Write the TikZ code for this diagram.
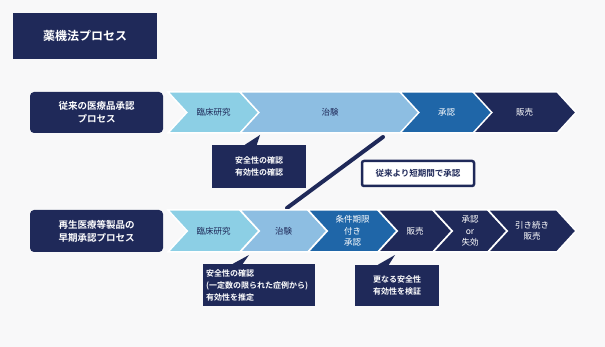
\documentclass[tikz,border=0pt]{standalone}
\usepackage{fontspec}
\setmainfont{Noto Sans CJK JP}[BoldFont={Noto Sans CJK JP Bold}]
\usepackage{tikz}
\usetikzlibrary{shapes.symbols, positioning, calc}
\definecolor{cNavy}{RGB}{31,41,89}
\definecolor{cCyan}{RGB}{140,207,229}
\definecolor{cSky}{RGB}{141,190,226}
\definecolor{cBlue}{RGB}{31,102,168}
\definecolor{cBack}{RGB}{248,248,249}
\tikzset{
	titlebox/.style ={rectangle, fill=cNavy, text=white, inner sep=0pt, font=\bfseries\fontsize{12}{14}\selectfont},
	rowlabel/.style ={rectangle, rounded corners=4pt, fill=cNavy, text=white, align=center, inner sep=0pt, minimum width=133pt, font=\bfseries\fontsize{9.5}{13}\selectfont},
	chev/.style     ={signal, signal from=west, signal to=east, signal pointer angle=95, draw=white, line width=1.5pt, inner sep=0pt, align=center, font=\fontsize{8.5}{11.5}\selectfont},
	chevlight/.style={chev, fill=#1, text=cNavy},
	chevdark/.style ={chev, fill=#1, text=white},
	note/.style     ={rectangle, fill=cNavy, text=white, inner sep=0pt, font=\bfseries\fontsize{8}{12}\selectfont},
	notetip/.style  ={fill=cNavy},
	shortbox/.style ={rectangle, rounded corners=2pt, draw=cNavy, line width=2.5pt, fill=white, text=cNavy, inner sep=0pt, font=\bfseries\fontsize{8.5}{10}\selectfont},
	slash/.style    ={draw=cNavy, line width=4pt, line cap=round},
}
\begin{document}
\begin{tikzpicture}[x=1pt, y=-1pt]
	\fill[cBack] (0,0) rectangle (605,347);
	\node[titlebox, minimum width=144pt, minimum height=46pt] (title) at (85,36) {薬機法プロセス};
	% conventional process
	\node[rowlabel, minimum height=41pt] (row1) at (96.5,112.5) {従来の医療品承認\\プロセス};
	\node[chevlight=cCyan, minimum width=91pt, minimum height=41pt] (a1) at (213.5,112.5) {臨床研究};
	\node[chevlight=cSky, minimum width=180pt, minimum height=41pt] (a2) at (330,112.5) {治験};
	\node[chevdark=cBlue, minimum width=93pt, minimum height=41pt] (a3) at (446.5,112.5) {承認};
	\node[chevdark=cNavy, minimum width=103pt, minimum height=41pt] (a4) at (524.5,112.5) {販売};
	\node[note, minimum width=94pt, minimum height=43pt, align=center] (n1) at (259,166.5) {安全性の確認\\有効性の確認};
	\coordinate (n1tip) at (260,135);
	\fill[notetip] ($(n1.north west)+(33,0)$) -- (n1tip) -- ($(n1.north west)+(45,0)$) -- cycle;
	% shorter approval
	\coordinate (slashA) at (383,137);
	\coordinate (slashB) at (287,208);
	\draw[slash] (slashA) -- (slashB);
	\node[shortbox, minimum width=112pt, minimum height=25pt] (short) at (418,173.5) {従来より短期間で承認};
	% regenerative medicine process
	\node[rowlabel, minimum height=42pt] (row2) at (96.5,231) {再生医療等製品の\\早期承認プロセス};
	\node[chevlight=cCyan, minimum width=91pt, minimum height=42pt] (b1) at (213.5,231) {臨床研究};
	\node[chevlight=cSky, minimum width=87pt, minimum height=42pt] (b2) at (283.5,231) {治験};
	\node[chevdark=cBlue, minimum width=89pt, minimum height=42pt] (b3) at (352.5,231) {条件期限\\付き\\承認};
	\node[chevdark=cNavy, minimum width=74pt, minimum height=42pt] (b4) at (415,231) {販売};
	\node[chevdark=cNavy, minimum width=74pt, minimum height=42pt] (b5) at (470,231) {承認\\or\\失効};
	\node[chevdark=cNavy, minimum width=88pt, minimum height=42pt] (b6) at (532,231) {引き続き\\販売};
	\node[note, minimum width=112pt, minimum height=42pt, text width=106pt, align=left] (n2) at (259,285) {安全性の確認\\(一定数の限られた症例から)\\有効性を推定};
	\coordinate (n2tip) at (249,255);
	\fill[notetip] ($(n2.north west)+(30,0)$) -- (n2tip) -- ($(n2.north west)+(40,0)$) -- cycle;
	\node[note, minimum width=84pt, minimum height=41pt, align=center] (n3) at (397,285.5) {更なる安全性\\有効性を検証};
	\coordinate (n3tip) at (395,255);
	\fill[notetip] ($(n3.north west)+(23,0)$) -- (n3tip) -- ($(n3.north west)+(34,0)$) -- cycle;
\end{tikzpicture}
\end{document}
